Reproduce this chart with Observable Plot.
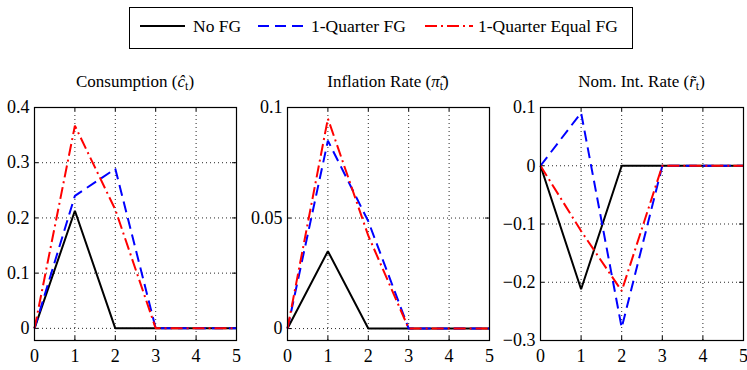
<!DOCTYPE html>
<html><head><meta charset="utf-8">
<script src="https://cdn.jsdelivr.net/npm/d3@7"></script>
<script src="https://cdn.jsdelivr.net/npm/@observablehq/plot@0.6"></script>
<style>
body{margin:0;background:#fff;width:747px;height:370px;position:relative;overflow:hidden;color:#000;}
body, body *, svg text, svg tspan, .title, .title i, .title sub, #legend .txt{font-family:'Liberation Serif','Times New Roman',serif !important;}
.panel{position:absolute;top:55px;}
.panel svg{overflow:visible;}
.title{position:absolute;top:70px;width:220px;font-size:17px;text-align:center;line-height:24px;white-space:nowrap;}
.title sub{font-size:12px;vertical-align:-3px;line-height:0;}
#legend{position:absolute;left:129px;top:7px;width:502px;height:40px;border:1.5px solid #000;}
#legend .txt{position:absolute;top:6px;line-height:24px;font-size:17.5px;white-space:nowrap;}
#legend svg{position:absolute;top:13px;}
</style>
</head><body>
<div id="legend"></div>
<div class="title" id="t1"></div>
<div class="title" id="t2"></div>
<div class="title" id="t3"></div>
<div class="panel" id="p1" style="left:0px"></div>
<div class="panel" id="p2" style="left:249px"></div>
<div class="panel" id="p3" style="left:498px"></div>
<script>
// ---- data ----
const periods = [0, 1, 2, 3, 4, 5];
const seriesNames = ["No FG", "1-Quarter FG", "1-Quarter Equal FG"];
const seriesColors = ["#000000", "#0000ff", "#ff0000"];
const seriesDash = [null, "11,6", "12,4,2,4"];

const consNoFG   = [0, 0.213, 0, 0, 0, 0];
const cons1Q     = [0, 0.240, 0.289, 0, 0, 0];
const cons1QEq   = [0, 0.367, 0.215, 0, 0, 0];

const inflNoFG   = [0, 0.035, 0, 0, 0, 0];
const infl1Q     = [0, 0.085, 0.0485, 0, 0, 0];
const infl1QEq   = [0, 0.095, 0.042, 0, 0, 0];

const rateNoFG   = [0, -0.212, 0, 0, 0, 0];
const rate1Q     = [0, 0.091, -0.278, 0, 0, 0];
const rate1QEq   = [0, -0.112, -0.215, 0, 0, 0];

const xTicks = [0, 1, 2, 3, 4, 5];
const consTicks = [0, 0.1, 0.2, 0.3, 0.4];
const inflTicks = [0, 0.05, 0.1];
const rateTicks = [-0.3, -0.2, -0.1, 0, 0.1];

const FONT = "'Liberation Serif','Times New Roman',serif";

// ---- legend ----
const legend = document.getElementById("legend");
const legendItems = [
  {sx: 10, sw: 45, tx: 63},
  {sx: 128, sw: 49, tx: 181},
  {sx: 295, sw: 48, tx: 348}
];
legendItems.forEach((it, i) => {
  const svg = d3.create("svg").attr("width", it.sw).attr("height", 10).style("left", it.sx + "px");
  svg.append("line").attr("x1", 0).attr("x2", it.sw).attr("y1", 5).attr("y2", 5)
    .attr("stroke", seriesColors[i]).attr("stroke-width", 2)
    .attr("stroke-dasharray", seriesDash[i]);
  legend.appendChild(svg.node());
  const t = document.createElement("span");
  t.className = "txt"; t.style.left = it.tx + "px"; t.style.fontFamily = FONT;
  t.textContent = seriesNames[i];
  legend.appendChild(t);
});

// ---- titles ----
const titles = [
  {id: "t1", cx: 135, html: "Consumption (<i>ĉ</i><sub>t</sub>)"},
  {id: "t2", cx: 388, html: "Inflation Rate (<i>π̃</i><sub>t</sub>)"},
  {id: "t3", cx: 641.5, html: "Nom. Int. Rate (<i>r̃</i><sub>t</sub>)"}
];
titles.forEach(t => {
  const el = document.getElementById(t.id);
  el.innerHTML = t.html;
  el.style.left = (t.cx - 110) + "px";
  el.style.fontFamily = FONT;
});

// ---- panels ----
const fmt = d => d === 0 ? "0" : d3.format("")(d);
function panel(id, {mL, mR, yDomain, yTicks, values}) {
  const W = 249, H = 315, mT = 52, mB = 30;
  const ph = H - mT - mB, pw = W - mL - mR;
  const lines = values.map((vals, i) => Plot.line(
    periods.map((t, j) => ({t, v: vals[j], s: seriesNames[i]})),
    {x: "t", y: "v", stroke: seriesColors[i], strokeWidth: 2,
     strokeDasharray: seriesDash[i] || undefined, strokeLinejoin: "miter", strokeLinecap: "butt"}
  ));
  const chart = Plot.plot({
    width: W, height: H, marginLeft: mL, marginRight: mR, marginTop: mT, marginBottom: mB,
    style: {fontFamily: FONT, fontSize: "18px", background: "transparent", color: "#000"},
    x: {domain: [0, 5]},
    y: {domain: yDomain},
    marks: [
      Plot.gridX(xTicks, {stroke: "#000", strokeOpacity: 0.85, strokeDasharray: "1,3"}),
      Plot.gridY(yTicks, {stroke: "#000", strokeOpacity: 0.85, strokeDasharray: "1,3"}),
      Plot.tickX(xTicks, {x: d => d, insetTop: ph - 4, stroke: "#000"}),
      Plot.tickX(xTicks, {x: d => d, insetBottom: ph - 4, stroke: "#000"}),
      Plot.tickY(yTicks, {y: d => d, insetRight: pw - 4, stroke: "#000"}),
      Plot.tickY(yTicks, {y: d => d, insetLeft: pw - 4, stroke: "#000"}),
      Plot.axisX(xTicks, {tickSize: 0, tickPadding: 9, fontSize: 18, fontFamily: FONT, label: null}),
      Plot.axisY(yTicks, {tickSize: 0, tickPadding: 5, fontSize: 18, fontFamily: FONT, tickFormat: fmt, label: null}),
      ...lines,
      Plot.frame({stroke: "#000", strokeWidth: 1.2})
    ]
  });
  chart.querySelectorAll("text").forEach(n => n.style.fontFamily = FONT);
  document.getElementById(id).appendChild(chart);
}

panel("p1", {mL: 34, mR: 13, yDomain: [-0.022, 0.4], yTicks: consTicks,
  values: [consNoFG, cons1Q, cons1QEq]});
panel("p2", {mL: 38, mR: 9, yDomain: [-0.0054, 0.1], yTicks: inflTicks,
  values: [inflNoFG, infl1Q, infl1QEq]});
panel("p3", {mL: 42, mR: 4, yDomain: [-0.3, 0.1], yTicks: rateTicks,
  values: [rateNoFG, rate1Q, rate1QEq]});
</script>
</body></html>
